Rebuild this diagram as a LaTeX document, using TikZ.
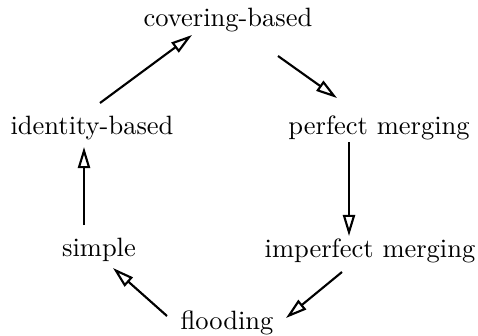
\documentclass[tikz,border=0pt]{standalone}
\usetikzlibrary{arrows.meta,calc}
\begin{document}
\begin{tikzpicture}[x=0.3774pt,y=-0.3774pt,
  lbl/.style={anchor=base,inner sep=0pt,font=\fontsize{10}{12}\selectfont},
  arr/.style={line width=0.8pt,-{Triangle[open,length=8pt,width=4.6pt,line width=0.8pt]}}]
\useasboundingbox (0,0) rectangle (478,336);
\node[lbl] (covering) at (228,27) {covering-based};
\node[lbl] (identity) at (92,134) {identity-based};
\node[lbl] (perfect) at (379,134) {perfect merging};
\node[lbl] (imperfect) at (370,257) {imperfect merging};
\node[lbl] (simple) at (99,256) {simple};
\node[lbl] (flooding) at (227,329) {flooding};
\draw[arr] ($(identity.base)+(8,-31)$) -- ($(covering.base)+(-36,8)$);
\draw[arr] ($(covering.base)+(50,29)$) -- ($(perfect.base)+(-42,-36)$);
\draw[arr] ($(perfect.base)+(-30,8)$) -- ($(imperfect.base)+(-21,-21)$);
\draw[arr] ($(imperfect.base)+(-28,15)$) -- ($(flooding.base)+(59,-11)$);
\draw[arr] ($(flooding.base)+(-60,-13)$) -- ($(simple.base)+(14,12)$);
\draw[arr] ($(simple.base)+(-15,-31)$) -- ($(identity.base)+(-8,13)$);
\end{tikzpicture}
\end{document}
